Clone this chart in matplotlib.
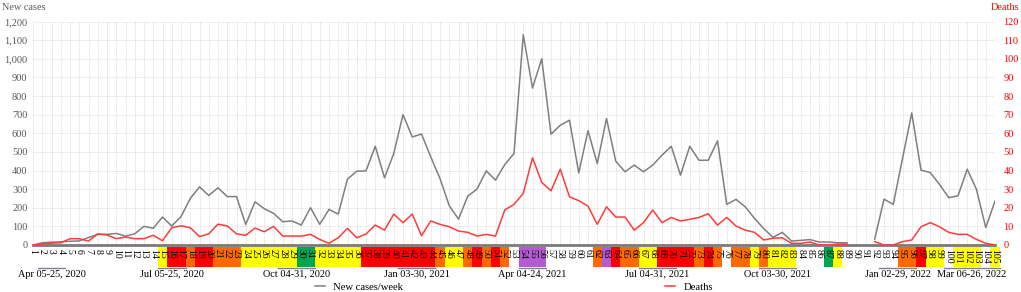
import matplotlib
matplotlib.use('Agg')
import matplotlib.pyplot as plt
import numpy as np
from matplotlib.patches import Rectangle
from matplotlib.lines import Line2D
from matplotlib.ticker import FuncFormatter

plt.rcParams['font.family'] = ['Liberation Serif', 'DejaVu Serif']

weeks = list(range(1, 106))

cases = [0, 12, 15, 17, 20, 22, 40, 57, 57, 62,
         48, 60, 100, 90, 150, 102, 152, 250, 312, 266,
         307, 260, 260, 110, 232, 195, 170, 125, 129, 107,
         200, 111, 191, 166, 354, 396, 398, 530, 361, 491,
         700, 580, 596, 473, 357, 211, 139, 262, 300, 398,
         348, 432, 491, 1129, 843, 1000, 595, 643, 670, 387,
         614, 437, 679, 450, 393, 429, 393, 429, 482, 530,
         375, 530, 455, 455, 559, 218, 245, 205, 143, 88,
         41, 68, 21, 25, 29, 16, 16, 12, 12, np.nan,
         np.nan, 32, 246, 218, 464, 709, 402, 389, 325, 254,
         264, 407, 298, 93, 236]

deaths = [0, 0.5, 1, 1.2, 3.4, 3.4, 2.1, 6, 5.4, 3.4,
          4.3, 3.4, 3.4, 5.2, 2.3, 9.3, 10.3, 9.3, 4.5, 6,
          11.2, 10.2, 6, 5.2, 9.1, 7.1, 10, 4.8, 4.8, 4.8,
          5.7, 3, 0.9, 3.9, 8.9, 3.9, 5.9, 10.7, 8, 16.6,
          12, 16.6, 5, 12.9, 11.1, 9.8, 7.5, 6.8, 4.8, 5.7,
          4.8, 18.8, 21.8, 27.7, 46.8, 33.6, 29.1, 40.7, 25.9, 23.8,
          20.9, 11.1, 20.5, 15, 15, 8, 12, 18.8, 12, 14.8,
          12.9, 13.8, 14.8, 16.8, 10.7, 14.8, 10.2, 8, 6.8, 2.7,
          3.6, 3.9, 0.9, 0.9, 1.6, 0, 0, 0.5, 0.5, np.nan,
          np.nan, 1.8, 0, 0, 1.8, 2.7, 9.8, 12, 9.8, 6.8,
          5.7, 5.7, 3, 0.9, 0]

# week label background category: W white, Y yellow, O orange, R red, G green, P purple
week_level = ("WWWWWWWWWWWWWW" "YRRORROOOYYYYYYGGYYYYY" "RRRRRRRR" "OYYOROROW" "PPPWWWWW"
              "OPROOYYRRRRORO" "WOOYOYYYWWWGY" "WWWWWWOORYYWYYYWY")
level_colors = {'W': None, 'Y': '#FFFF00', 'O': '#FF6A00', 'R': '#FF0000',
                'G': '#00A651', 'P': '#B45AD2'}

periods = ["Apr 05-25, 2020", "Jul 05-25, 2020", "Oct 04-31, 2020", "Jan 03-30, 2021",
           "Apr 04-24, 2021", "Jul 04-31, 2021", "Oct 03-30, 2021", "Jan 02-29, 2022",
           "Mar 06-26, 2022"]
period_start = [2, 15, 28, 41, 54, 67, 80, 93, 100]
period_end = [4, 17, 31, 44, 56, 70, 83, 96, 105]

fig = plt.figure(figsize=(10.21, 2.92), dpi=100)
ax = fig.add_axes([33/1021, 1-245/292, 962/1021, 223.5/292])
ax.set_xlim(1, 105)
ax.set_ylim(0, 1200)
ax.set_yticks(range(0, 1201, 100))
ax.set_xticks(weeks)
ax.set_xticklabels([str(w) for w in weeks], rotation=270, fontsize=7)
ax.tick_params(axis='x', length=0, pad=3, colors='black')
ax.tick_params(axis='y', length=0, pad=4, labelsize=7.5, labelcolor='#595959')
ax.yaxis.set_major_formatter(FuncFormatter(lambda v, p: f"{int(v):,}"))
ax.grid(True, color='#d6d6d6', linestyle=(0, (1, 1)), linewidth=0.6)
for s in ['top', 'left', 'right']:
    ax.spines[s].set_visible(False)
ax.spines['bottom'].set_color('#7a7a7a')
ax.spines['bottom'].set_linewidth(2)

l1, = ax.plot(weeks, cases, color='#7F7F7F', lw=1.1, label='New cases/week')

ax2 = ax.twinx()
ax2.set_ylim(0, 120)
ax2.set_yticks(range(0, 121, 10))
ax2.tick_params(axis='y', length=0, pad=6, labelsize=7.5, labelcolor='#FF0000')
for s in ax2.spines.values():
    s.set_visible(False)
l2, = ax2.plot(weeks, deaths, color='#FF3B3B', lw=1.1, label='Deaths')

trans = ax.get_xaxis_transform()
for w, lev in zip(weeks, week_level):
    c = level_colors[lev]
    if c is not None:
        ax.add_patch(Rectangle((w - 0.5, -0.0971), 1, 0.0868, transform=trans,
                               clip_on=False, facecolor=c, edgecolor='none', zorder=1))

for name, s, e in zip(periods, period_start, period_end):
    ax.add_line(Line2D([s - 0.5, e + 0.5], [-0.1016, -0.1016], transform=trans,
                       clip_on=False, color='#7f8090', lw=1))
    ax.text((s + e) / 2, -0.131, name, transform=trans, ha='center', va='center',
            fontsize=7.4, color='black')

fig.text(2/1021, 1-7/292, 'New cases', fontsize=7.4, color='#595959', ha='left', va='center')
fig.text(1019/1021, 1-7/292, 'Deaths', fontsize=7.4, color='#FF0000', ha='right', va='center')

fig.legend(handles=[l1, l2], loc='center left', bbox_to_anchor=(315/1021, 1-287/292),
           ncol=2, frameon=False, fontsize=7.7, handlelength=0.9, handletextpad=0.8,
           columnspacing=24.5, borderpad=0, borderaxespad=0)

fig.savefig('out.png', dpi=100)
